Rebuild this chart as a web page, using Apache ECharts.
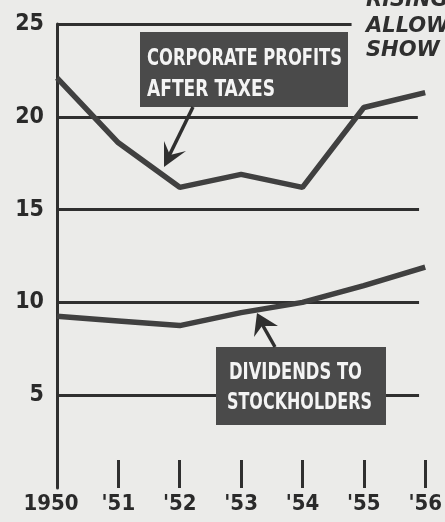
<!DOCTYPE html>
<html><head><meta charset="utf-8">
<script src="https://cdn.jsdelivr.net/npm/echarts@6/dist/echarts.min.js"></script>
<style>html,body{margin:0;padding:0;background:#ebebe9}#c{width:445px;height:522px}</style>
</head><body><div id="c"></div>
<script>
const years = [1950, 1951, 1952, 1953, 1954, 1955, 1956];
const yearLabels = ['1950', "'51", "'52", "'53", "'54", "'55", "'56"];
const profits = [22.1, 18.6, 16.2, 16.9, 16.2, 20.5, 21.3];
const dividends = [9.25, 9.0, 8.75, 9.45, 10.0, 10.9, 11.9];
const yTicks = [5, 10, 15, 20, 25];

const ink = '#2f2f2f';
const font = "'DejaVu Sans Condensed','Liberation Sans Narrow',sans-serif";
const chart = echarts.init(document.getElementById('c'));

const gridEnds = {25: 1954.8, 20: 1955.88, 15: 1955.9, 10: 1955.9, 5: 1955.9};
const gridLines = yTicks.map(v => [{coord: [1950, v]}, {coord: [gridEnds[v], v]}]);
gridLines.push([{coord: [1949.76, 0]}, {coord: [1956.25, 0]}]);

const ctx = document.createElement('canvas').getContext('2d');
function fitText(str, x, y, w, size) {
  const f = 'bold ' + size + 'px ' + font;
  ctx.font = f;
  const m = ctx.measureText(str).width;
  return {type: 'text', x: x, y: y, scaleX: w / m, scaleY: 1,
    style: {text: str, fill: '#f4f4f4', font: f, textVerticalAlign: 'middle'}, z: 11};
}

chart.setOption({
  backgroundColor: '#ebebe9',
  animation: false,
  grid: {left: 57, right: 15, top: 24, bottom: 34},
  xAxis: {
    type: 'value', min: 1950, max: 1956, interval: 1,
    axisLine: {show: false},
    axisTick: {show: true, inside: true, length: 28, lineStyle: {color: ink, width: 3}},
    splitLine: {show: false},
    axisLabel: {
      margin: 5, color: '#2a2a2a', fontFamily: font, fontWeight: 'bold', fontSize: 22,
      formatter: v => {
        const s = yearLabels[years.indexOf(v)];
        return v === years[0] ? '{f|' + s + '}' : s;
      },
      rich: {f: {fontFamily: font, fontWeight: 'bold', fontSize: 22, color: '#2a2a2a', padding: [0, 12, 0, 0]}}
    }
  },
  yAxis: {
    type: 'value', min: 0, max: 25, interval: 5,
    axisLine: {show: true, lineStyle: {color: ink, width: 3}},
    axisTick: {show: false},
    splitLine: {show: false},
    axisLabel: {
      margin: 13, color: '#2a2a2a', fontFamily: font, fontWeight: 'bold', fontSize: 23,
      formatter: v => v === 0 ? '' : String(v)
    }
  },
  series: [
    {
      type: 'line', data: [], clip: false, silent: true,
      markLine: {
        symbol: 'none', silent: true, label: {show: false},
        lineStyle: {color: ink, width: 3, type: 'solid'},
        data: gridLines
      }
    },
    {
      type: 'line', data: years.map((y, i) => [y, profits[i]]),
      symbol: 'none', lineStyle: {color: '#404040', width: 5.5}, z: 5
    },
    {
      type: 'line', data: years.map((y, i) => [y, dividends[i]]),
      symbol: 'none', lineStyle: {color: '#404040', width: 5.5}, z: 5
    }
  ],
  graphic: [
    {type: 'rect', shape: {x: 140, y: 32, width: 208, height: 75}, style: {fill: '#4a4a4a'}, z: 10},
    fitText('CORPORATE PROFITS', 147, 59, 195, 23),
    fitText('AFTER TAXES', 147, 90, 128, 23),
    {type: 'line', shape: {x1: 193, y1: 107, x2: 169, y2: 156}, style: {stroke: ink, lineWidth: 3.5}, z: 10},
    {type: 'polygon', shape: {points: [[164, 167], [164, 141], [170, 155], [186, 151]]}, style: {fill: ink}, z: 10},
    {type: 'rect', shape: {x: 216, y: 347, width: 170, height: 78}, style: {fill: '#4a4a4a'}, z: 10},
    fitText('DIVIDENDS TO', 229, 373, 133, 23),
    fitText('STOCKHOLDERS', 227, 403, 145, 23),
    {type: 'line', shape: {x1: 275, y1: 347, x2: 262, y2: 324}, style: {stroke: ink, lineWidth: 3.5}, z: 10},
    {type: 'polygon', shape: {points: [[257, 313], [254, 337], [262, 326], [278, 326]]}, style: {fill: ink}, z: 10},
    {type: 'text', x: 366, y: -10, style: {text: 'RISING', fill: '#2f2f2f', font: "italic bold 21px 'DejaVu Sans',sans-serif"}, z: 11},
    {type: 'text', x: 366, y: 16, style: {text: 'ALLOW', fill: '#2f2f2f', font: "italic bold 21px 'DejaVu Sans',sans-serif"}, z: 11},
    {type: 'text', x: 366, y: 40, style: {text: 'SHOW', fill: '#2f2f2f', font: "italic bold 21px 'DejaVu Sans',sans-serif"}, z: 11}
  ]
});
</script></body></html>
